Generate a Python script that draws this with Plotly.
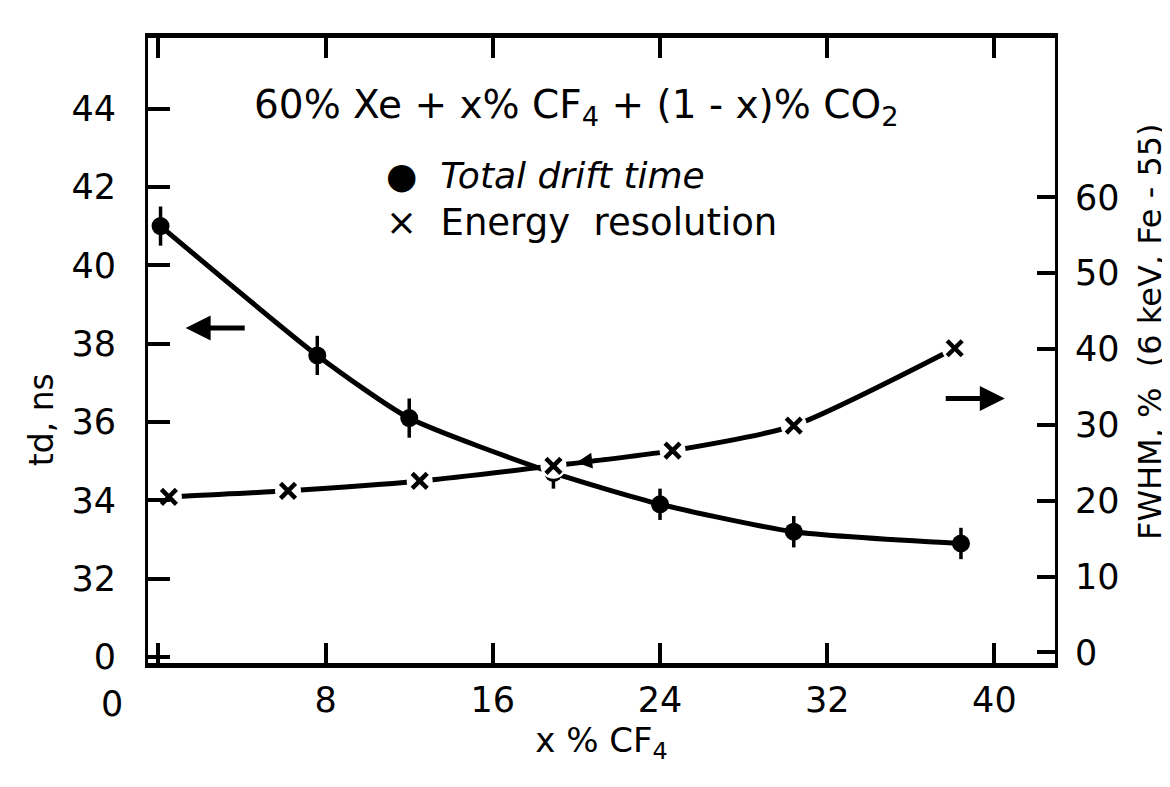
import plotly.graph_objects as go

# ---- data ----
cf4_drift = [0.1, 7.6, 12.0, 18.9, 24.0, 30.4, 38.4]
td_ns = [41.0, 37.7, 36.1, 34.7, 33.9, 33.2, 32.9]
td_err = [0.5, 0.5, 0.5, 0.4, 0.4, 0.4, 0.4]

cf4_res = [0.5, 6.2, 12.5, 18.9, 24.6, 30.4, 38.1]
fwhm_pct = [20.5, 21.3, 22.6, 24.6, 26.6, 29.9, 40.1]

x_ticks = [0, 8, 16, 24, 32, 40]
x_ticktext = ["", "8", "16", "24", "32", "40"]
y_ticks = [30, 32, 34, 36, 38, 40, 42, 44]
y_ticktext = ["0", "32", "34", "36", "38", "40", "42", "44"]
y2_ticks = [0, 10, 20, 30, 40, 50, 60]
y2_ticktext = ["0", "10", "20", "30", "40", "50", "60"]

FONT = "DejaVu Sans"
BLACK = "#000000"

fig = go.Figure()

# energy resolution curve (right axis)
fig.add_trace(go.Scatter(x=cf4_res, y=fwhm_pct, yaxis="y2", mode="lines",
                         line=dict(color=BLACK, width=5, shape="spline", smoothing=0.6),
                         showlegend=False, hoverinfo="skip"))
# white gaps around the crosses
fig.add_trace(go.Scatter(x=cf4_res, y=fwhm_pct, yaxis="y2", mode="markers",
                         marker=dict(symbol="circle", size=26, color="white"),
                         showlegend=False, hoverinfo="skip"))
fig.add_trace(go.Scatter(x=cf4_res, y=fwhm_pct, yaxis="y2", mode="markers",
                         marker=dict(symbol="x-thin", size=15, color=BLACK,
                                     line=dict(color=BLACK, width=4.5)),
                         name="Energy resolution", showlegend=False))

# drift time curve (left axis)
fig.add_trace(go.Scatter(x=cf4_drift, y=td_ns, mode="lines",
                         line=dict(color=BLACK, width=5, shape="spline", smoothing=0.6),
                         showlegend=False, hoverinfo="skip"))
fig.add_trace(go.Scatter(x=cf4_drift, y=td_ns, mode="markers",
                         marker=dict(symbol="circle", size=18, color=BLACK),
                         error_y=dict(type="data", array=td_err, color=BLACK,
                                      thickness=3.5, width=0),
                         name="Total drift time", showlegend=False))

TICKFONT = dict(family=FONT, size=35, color=BLACK)
axis_common = dict(showgrid=False, zeroline=False, linecolor=BLACK, linewidth=3,
                   ticks="inside", tickcolor=BLACK, tickwidth=4, tickfont=TICKFONT)

fig.update_layout(
    width=1170, height=787,
    margin=dict(l=140, r=123, t=30, b=132),
    paper_bgcolor="white", plot_bgcolor="white",
    showlegend=False,
    xaxis=dict(range=[-0.5, 42.9], tickvals=x_ticks, ticktext=x_ticktext,
               showline=True, mirror="ticks", ticklen=20, ticklabelstandoff=2,
               title=dict(text="x % CF<sub>4</sub>", font=dict(family=FONT, size=34, color=BLACK),
                          standoff=6),
               **axis_common),
    yaxis=dict(range=[29.85, 45.8], tickvals=y_ticks, ticktext=y_ticktext,
               showline=True, ticklen=22, ticklabelstandoff=22,
               **axis_common),
    yaxis2=dict(range=[-1.4, 81], tickvals=y2_ticks, ticktext=y2_ticktext,
                overlaying="y", side="right", showline=True, ticklen=18,
                ticklabelstandoff=10,
                **axis_common),
)
fig.update_xaxes(linewidth=5)

# axis titles placed like the hand-lettered originals
fig.add_annotation(xref="paper", yref="paper", x=-0.118, y=0.39, showarrow=False,
                   text="td, ns", textangle=-90, font=dict(family=FONT, size=33, color=BLACK),
                   xanchor="center", yanchor="middle")
fig.add_annotation(xref="paper", yref="paper", x=1.105, y=0.53, showarrow=False,
                   text="FWHM, %  (6 keV, Fe - 55)", textangle=-90,
                   font=dict(family=FONT, size=32, color=BLACK),
                   xanchor="center", yanchor="middle")

fig.add_annotation(xref="paper", yref="paper", x=0.472, y=0.89, showarrow=False,
                   text="60% Xe + x% CF<sub>4</sub> + (1 - x)% CO<sub>2</sub>",
                   font=dict(family=FONT, size=39, color=BLACK), xanchor="center", yanchor="middle")
fig.add_annotation(xref="paper", yref="paper", x=0.26, y=0.78, showarrow=False,
                   text="●  <i>Total drift time</i>", font=dict(family=FONT, size=36, color=BLACK),
                   xanchor="left", yanchor="middle")
fig.add_annotation(xref="paper", yref="paper", x=0.26, y=0.705, showarrow=False,
                   text="×  Energy  resolution", font=dict(family=FONT, size=37, color=BLACK),
                   xanchor="left", yanchor="middle")
# misplaced x-axis zero label
fig.add_annotation(xref="paper", yref="paper", x=-0.04, y=-0.065, showarrow=False,
                   text="0", font=TICKFONT, xanchor="center", yanchor="middle")

# axis pointer arrows
fig.add_annotation(x=1.3, y=38.4, ax=4.2, ay=38.4, xref="x", yref="y", axref="x", ayref="y",
                   showarrow=True, arrowhead=2, arrowsize=1, arrowwidth=5, arrowcolor=BLACK, text="")
fig.add_annotation(x=40.5, y=36.6, ax=37.6, ay=36.6, xref="x", yref="y", axref="x", ayref="y",
                   showarrow=True, arrowhead=2, arrowsize=1, arrowwidth=5, arrowcolor=BLACK, text="")
# small arrowhead drawn on the energy curve near the crossing
fig.add_annotation(x=20.0, y=25.05, ax=21.5, ay=25.5, xref="x", yref="y2", axref="x", ayref="y2",
                   showarrow=True, arrowhead=2, arrowsize=0.9, arrowwidth=3.5, arrowcolor=BLACK, text="")

fig.write_html("out.html")
